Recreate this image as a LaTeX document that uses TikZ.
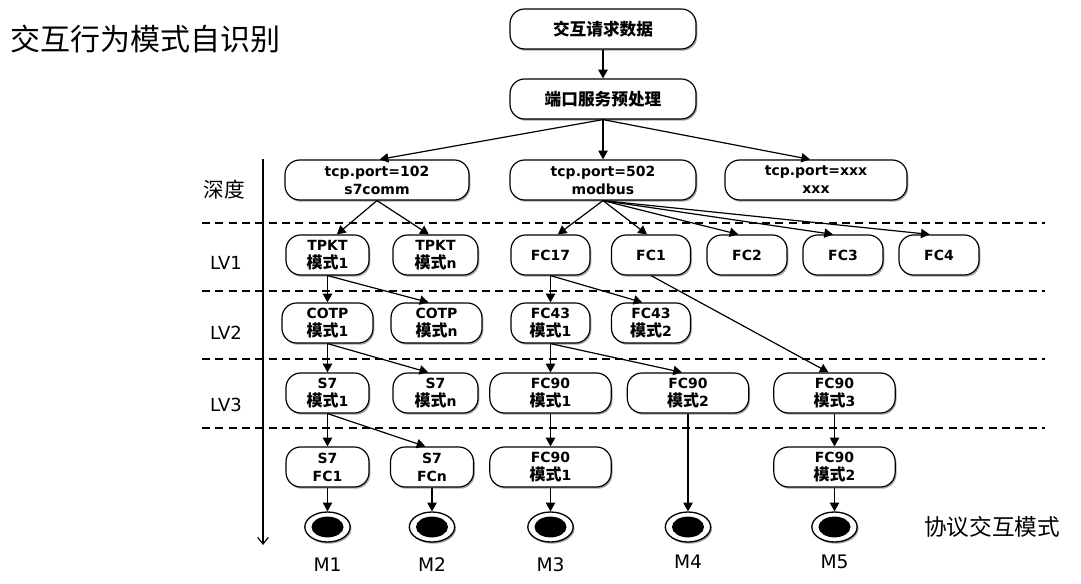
\documentclass[tikz,border=0pt]{standalone}
\usepackage{fontspec}
\setmainfont{DejaVu Sans}
\newfontfamily\cj{Noto Sans CJK SC}
\usetikzlibrary{arrows.meta,shapes.geometric,shadows}
\newcommand\zh[1]{{\cj\fontsize{12}{13.5}\selectfont #1}}
\begin{document}
\begin{tikzpicture}[x=0.75pt,y=-0.75pt,
  pill/.style={draw, line width=0.9pt, rounded corners=11pt, fill=white, align=center,
    inner sep=0pt, minimum height=30pt, font=\bfseries\fontsize{10.5}{13.5}\selectfont,
    drop shadow={shadow xshift=1pt, shadow yshift=-1.3pt, opacity=0.35, fill=black}},
  endnode/.style={draw, line width=1pt, ellipse, fill=white, inner sep=0pt,
    minimum width=34pt, minimum height=22.5pt,
    drop shadow={shadow xshift=1pt, shadow yshift=-1.3pt, opacity=0.35, fill=black}},
  arr/.style={line width=0.9pt, -{Triangle[length=6.5pt,width=7pt]}},
  dline/.style={line width=0.9pt, dash pattern=on 6pt off 4pt},
  lvlabel/.style={font=\fontsize{13.5}{16}\selectfont},
  mlabel/.style={font=\fontsize{14}{16}\selectfont},
  zhlabel/.style={font=\cj\fontsize{15.5}{18}\selectfont}
]
\useasboundingbox (0,0) rectangle (1081,584);

% title
\node[anchor=west, font=\cj\fontsize{22.5}{27}\selectfont] (title) at (6,39) {交互行为模式自识别};

% dashed level lines
\foreach \yy [count=\i] in {223,291,359,428} {
  \coordinate (dl\i) at (202,\yy);
  \coordinate (dr\i) at (1045,\yy);
  \draw[dline] (dl\i) -- (dr\i);
}

% depth axis
\coordinate (axtop) at (263,159);
\coordinate (axbot) at (263,545);
\draw[line width=0.9pt, -{Straight Barb[length=5pt,width=8pt]}] (axtop) -- (axbot);

% side labels
\node[zhlabel] (depth) at (224,190) {深度};
\node[lvlabel] (lv1) at (226,263) {LV1};
\node[lvlabel] (lv2) at (226,333) {LV2};
\node[lvlabel] (lv3) at (226,405) {LV3};
\node[font=\cj\fontsize{17}{20}\selectfont] (pim) at (992,527) {协议交互模式};

% top nodes
\node[pill, minimum width=139.5pt, font=\cj\bfseries\fontsize{12.5}{15}\selectfont] (req) at (603,29) {交互请求数据};
\node[pill, minimum width=139.5pt, font=\cj\bfseries\fontsize{12.5}{15}\selectfont] (pre) at (603,99) {端口服务预处理};

% port row
\node[pill, minimum width=138pt] (p102) at (377,180) {tcp.port=102\\s7comm};
\node[pill, minimum width=139.5pt] (p502) at (603,180) {tcp.port=502\\modbus};
\node[pill, minimum width=136.5pt] (pxxx) at (816,180) {tcp.port=xxx\\xxx};

% LV1
\node[pill, minimum width=62.25pt] (tpkt1) at (327.5,255) {TPKT\\\zh{模式}1};
\node[pill, minimum width=63.75pt] (tpktn) at (435.5,255) {TPKT\\\zh{模式}n};
\node[pill, minimum width=59.25pt] (fc17) at (550.5,255) {FC17};
\node[pill, minimum width=59.25pt] (fc1) at (651,255) {FC1};
\node[pill, minimum width=60pt] (fc2) at (747,255) {FC2};
\node[pill, minimum width=60pt] (fc3) at (843,255) {FC3};
\node[pill, minimum width=60pt] (fc4) at (939,255) {FC4};

% LV2
\node[pill, minimum width=68.25pt] (cotp1) at (327.5,323) {COTP\\\zh{模式}1};
\node[pill, minimum width=68.25pt] (cotpn) at (436.5,323) {COTP\\\zh{模式}n};
\node[pill, minimum width=59.25pt] (fc43a) at (550.5,323) {FC43\\\zh{模式}1};
\node[pill, minimum width=59.25pt] (fc43b) at (651,323) {FC43\\\zh{模式}2};

% LV3
\node[pill, minimum width=62.25pt] (s7a) at (327.5,393) {S7\\\zh{模式}1};
\node[pill, minimum width=63.75pt] (s7n) at (435.5,393) {S7\\\zh{模式}n};
\node[pill, minimum width=91pt] (fc90a) at (550.5,393) {FC90\\\zh{模式}1};
\node[pill, minimum width=91pt] (fc90b) at (688,393) {FC90\\\zh{模式}2};
\node[pill, minimum width=91pt] (fc90c) at (834.5,393) {FC90\\\zh{模式}3};

% LV4
\node[pill, minimum width=62.25pt] (s7fc1) at (327.5,467) {S7\\FC1};
\node[pill, minimum width=62.25pt] (s7fcn) at (432,467) {S7\\FCn};
\node[pill, minimum width=91pt] (fc90d) at (550.5,467) {FC90\\\zh{模式}1};
\node[pill, minimum width=91pt] (fc90e) at (834.5,467) {FC90\\\zh{模式}2};

% end states
\foreach \nm/\xx in {m1/327.5, m2/432, m3/550.5, m4/688, m5/834.5} {
  \node[endnode] (\nm) at (\xx,527) {};
  \fill (\nm.center) ellipse [x radius=12pt, y radius=7.8pt];
}
\node[mlabel] (lm1) at (327.5,565) {M1};
\node[mlabel] (lm2) at (432,565) {M2};
\node[mlabel] (lm3) at (550.5,565) {M3};
\node[mlabel] (lm4) at (688,562) {M4};
\node[mlabel] (lm5) at (834.5,562) {M5};

% connectors
\draw[arr] (req) -- (pre);
\draw[arr] (pre.south) -- ([xshift=2pt]p102.north);
\draw[arr] (pre) -- (p502);
\draw[arr] (pre.south) -- ([xshift=-4.5pt]pxxx.north);

\draw[arr] (p102.south) -- ([xshift=7pt]tpkt1.north);
\draw[arr] (p102.south) -- ([xshift=-5pt]tpktn.north);
\draw[arr] (p502.south) -- ([xshift=5.5pt]fc17.north);
\draw[arr] (p502.south) -- ([xshift=-3pt]fc1.north);
\draw[arr] (p502.south) -- ([xshift=-6.5pt]fc2.north);
\draw[arr] (p502.south) -- ([xshift=-7.5pt]fc3.north);
\draw[arr] (p502.south) -- ([xshift=-7pt]fc4.north);

\draw[arr] (tpkt1) -- (cotp1);
\draw[arr] (tpkt1.south) -- ([xshift=-6pt]cotpn.north);
\draw[arr] (fc17) -- (fc43a);
\draw[arr] (fc17.south) -- ([xshift=-6.5pt]fc43b.north);
\draw[arr] (fc1.south) -- ([xshift=-4.5pt]fc90c.north);

\draw[arr] (cotp1) -- (s7a);
\draw[arr] (cotp1.south) -- ([xshift=-5.5pt]s7n.north);
\draw[arr] (fc43a) -- (fc90a);
\draw[arr] (fc43a.south) -- ([xshift=-4.5pt]fc90b.north);

\draw[arr] (s7a) -- (s7fc1);
\draw[arr] (s7a.south) -- ([xshift=-5pt]s7fcn.north);
\draw[arr] (fc90a) -- (fc90d);
\draw[arr] (fc90b) -- (m4);
\draw[arr] (fc90c) -- (fc90e);

\draw[arr] (s7fc1) -- (m1);
\draw[arr] (s7fcn) -- (m2);
\draw[arr] (fc90d) -- (m3);
\draw[arr] (fc90e) -- (m5);
\end{tikzpicture}
\end{document}
